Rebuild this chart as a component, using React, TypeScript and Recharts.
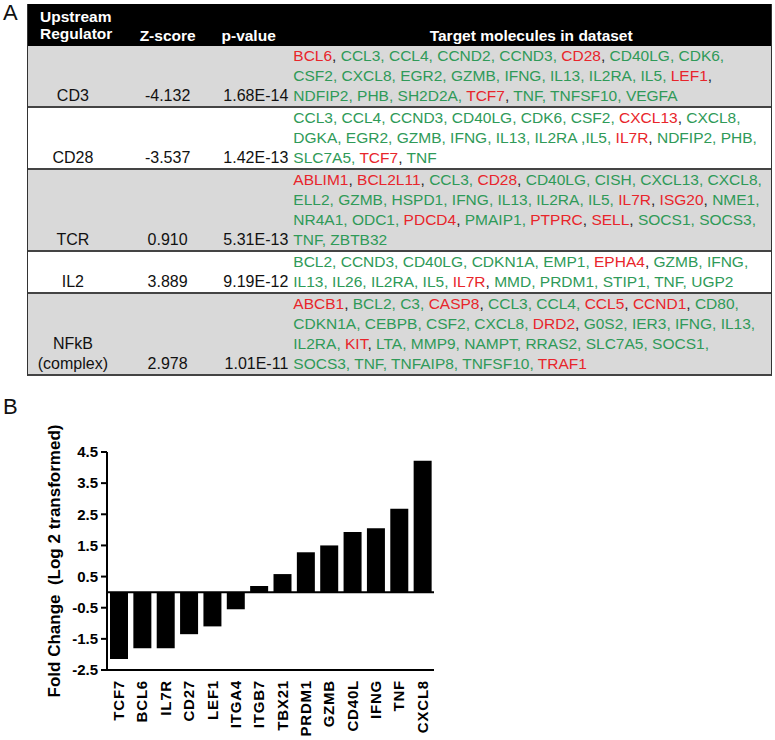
import React from 'react';
import { BarChart, Bar, XAxis, YAxis, ReferenceLine } from 'recharts';

// Panel A: upstream regulator table
const regulators = ['CD3', 'CD28', 'TCR', 'IL2', 'NFkB\n(complex)'];
const zScores = ['-4.132', '-3.537', '0.910', '3.889', '2.978'];
const pValues = ['1.68E-14', '1.42E-13', '5.31E-13', '9.19E-12', '1.01E-11'];

const cd3Targets = [
  'BCL6, CCL3, CCL4, CCND2, CCND3, CD28, CD40LG, CDK6,',
  'CSF2, CXCL8, EGR2, GZMB, IFNG, IL13, IL2RA, IL5, LEF1,',
  'NDFIP2, PHB, SH2D2A, TCF7, TNF, TNFSF10, VEGFA',
];
const cd28Targets = [
  'CCL3, CCL4, CCND3, CD40LG, CDK6, CSF2, CXCL13, CXCL8,',
  'DGKA, EGR2, GZMB, IFNG, IL13, IL2RA ,IL5, IL7R, NDFIP2, PHB,',
  'SLC7A5, TCF7, TNF',
];
const tcrTargets = [
  'ABLIM1, BCL2L11, CCL3, CD28, CD40LG, CISH, CXCL13, CXCL8,',
  'ELL2, GZMB, HSPD1, IFNG, IL13, IL2RA, IL5, IL7R, ISG20, NME1,',
  'NR4A1, ODC1, PDCD4, PMAIP1, PTPRC, SELL, SOCS1, SOCS3,',
  'TNF, ZBTB32',
];
const il2Targets = [
  'BCL2, CCND3, CD40LG, CDKN1A, EMP1, EPHA4, GZMB, IFNG,',
  'IL13, IL26, IL2RA, IL5, IL7R, MMD, PRDM1, STIP1, TNF, UGP2',
];
const nfkbTargets = [
  'ABCB1, BCL2, C3, CASP8, CCL3, CCL4, CCL5, CCND1, CD80,',
  'CDKN1A, CEBPB, CSF2, CXCL8, DRD2, G0S2, IER3, IFNG, IL13,',
  'IL2RA, KIT, LTA, MMP9, NAMPT, RRAS2, SLC7A5, SOCS1,',
  'SOCS3, TNF, TNFAIP8, TNFSF10, TRAF1',
];
const targetLines = [cd3Targets, cd28Targets, tcrTargets, il2Targets, nfkbTargets];

// genes shown in red (the rest are green)
const redGenes = [
  ['BCL6', 'CD28', 'LEF1', 'TCF7'],
  ['CXCL13', 'IL7R', 'TCF7'],
  ['ABLIM1', 'BCL2L11', 'CD28', 'IL7R', 'ISG20', 'PDCD4', 'PTPRC', 'SELL'],
  ['EPHA4', 'IL7R'],
  ['ABCB1', 'CASP8', 'CCL5', 'CCND1', 'DRD2', 'KIT', 'TRAF1'],
];

// Panel B: fold change
const genes = ['TCF7', 'BCL6', 'IL7R', 'CD27', 'LEF1', 'ITGA4', 'ITGB7', 'TBX21', 'PRDM1', 'GZMB', 'CD40L', 'IFNG', 'TNF', 'CXCL8'];
const foldChange = [-2.15, -1.8, -1.8, -1.35, -1.1, -0.55, 0.2, 0.58, 1.28, 1.5, 1.93, 2.05, 2.68, 4.22];
const yTicks = [-2.5, -1.5, -0.5, 0.5, 1.5, 2.5, 3.5, 4.5];

const FONT = '"Liberation Sans", Arial, Helvetica, sans-serif';
const GREEN = '#2f9a58';
const RED = '#e8252b';
const GRAY = '#d9d9d9';
const LINE_H = 20;
const COLS = [90, 100, 74, 481];

const renderLine = (line: string, red: string[]) => {
  const parts = line.split(/([A-Za-z0-9]+)/);
  let prevRed = false;
  return parts.map((p, i) => {
    if (i % 2 === 1) {
      prevRed = red.includes(p);
      return (
        <span key={i} style={{ color: prevRed ? RED : GREEN }}>
          {p}
        </span>
      );
    }
    return (
      <span key={i} style={{ color: prevRed ? '#222' : GREEN }}>
        {p}
      </span>
    );
  });
};

const RegulatorTable = () => (
  <div
    style={{
      position: 'absolute',
      left: 27,
      top: 4,
      width: 745,
      fontFamily: FONT,
      fontSize: 15.5,
      lineHeight: `${LINE_H}px`,
      borderLeft: '1.5px solid #333',
      borderRight: '1.5px solid #333',
      borderBottom: '2px solid #444',
      boxSizing: 'border-box',
    }}
  >
    <div style={{ display: 'flex', height: 42, background: '#000', color: '#fff', fontWeight: 'bold', lineHeight: '17px' }}>
      <div style={{ width: COLS[0], paddingLeft: 12, paddingTop: 4, boxSizing: 'border-box' }}>
        Upstream
        <br />
        Regulator
      </div>
      <div style={{ width: COLS[1], textAlign: 'center', alignSelf: 'flex-end', paddingBottom: 2 }}>Z-score</div>
      <div style={{ width: COLS[2], paddingLeft: 4, alignSelf: 'flex-end', paddingBottom: 2, boxSizing: 'border-box' }}>p-value</div>
      <div style={{ width: COLS[3], textAlign: 'center', alignSelf: 'flex-end', paddingBottom: 2 }}>Target molecules in dataset</div>
    </div>
    {regulators.map((reg, r) => (
      <div
        key={reg}
        style={{
          display: 'flex',
          alignItems: 'flex-end',
          background: r % 2 === 0 ? GRAY : '#fff',
          borderTop: r === 0 ? 'none' : '2px solid #444',
        }}
      >
        <div style={{ width: COLS[0], textAlign: 'center', whiteSpace: 'pre-line', color: '#111', fontSize: 16 }}>{reg}</div>
        <div style={{ width: COLS[1], textAlign: 'center', color: '#111', fontSize: 16 }}>{zScores[r]}</div>
        <div style={{ width: COLS[2], textAlign: 'right', paddingRight: 3, boxSizing: 'border-box', color: '#111', fontSize: 16 }}>
          {pValues[r]}
        </div>
        <div style={{ width: COLS[3], paddingLeft: 2, boxSizing: 'border-box' }}>
          {targetLines[r].map((line, i) => (
            <div key={i} style={{ whiteSpace: 'pre' }}>
              {renderLine(line, redGenes[r])}
            </div>
          ))}
        </div>
      </div>
    ))}
  </div>
);

const GeneTick = (props: any) => {
  const { x, y, payload } = props;
  return (
    <g transform={`translate(${x},${y + 2})`}>
      <text
        transform="rotate(-90)"
        textAnchor="end"
        dy="0.36em"
        fontFamily={FONT}
        fontWeight="bold"
        fontSize={15}
        letterSpacing={0.8}
        fill="#000"
      >
        {payload.value}
      </text>
    </g>
  );
};

const FoldChangeChart = () => {
  const data = genes.map((g, i) => ({ gene: g, value: foldChange[i] }));
  return (
    <div style={{ position: 'absolute', left: 0, top: 395 }}>
      <BarChart width={460} height={345} data={data} margin={{ top: 57, right: 26, bottom: 0, left: 0 }}>
        <XAxis
          dataKey="gene"
          interval={0}
          height={70}
          tickLine={false}
          axisLine={{ stroke: '#000', strokeWidth: 2 }}
          tick={<GeneTick />}
        />
        <YAxis
          width={107}
          domain={[-2.5, 4.5]}
          ticks={yTicks}
          interval={0}
          tickSize={6}
          tickMargin={3}
          axisLine={{ stroke: '#000', strokeWidth: 2 }}
          tickLine={{ stroke: '#000', strokeWidth: 2 }}
          tick={{ fill: '#000', fontSize: 15, fontWeight: 'bold', fontFamily: FONT }}
          label={{
            content: (p: any) => {
              const vb = p.viewBox || { y: 57, height: 218 };
              const cy = vb.y + vb.height / 2;
              return (
                <text
                  x={54}
                  y={cy}
                  transform={`rotate(-90, 54, ${cy})`}
                  textAnchor="middle"
                  dominantBaseline="central"
                  fontFamily={FONT}
                  fontWeight="bold"
                  fontSize={17}
                  fill="#000"
                  style={{ whiteSpace: 'pre' }}
                >
                  {'Fold Change  (Log 2 transformed)'}
                </text>
              );
            },
          }}
        />
        <ReferenceLine y={0} stroke="#000" strokeWidth={2} />
        <Bar dataKey="value" fill="#000" barSize={18} isAnimationActive={false} />
      </BarChart>
    </div>
  );
};

export default function App() {
  const panelLabel = { position: 'absolute' as const, left: 3, fontFamily: FONT, fontSize: 22, lineHeight: '26px', color: '#111' };
  return (
    <div style={{ position: 'absolute', left: 0, top: 0, width: 775, height: 740, background: '#fff', overflow: 'hidden' }}>
      <div style={{ ...panelLabel, top: 0 }}>A</div>
      <div style={{ ...panelLabel, top: 394 }}>B</div>
      <RegulatorTable />
      <FoldChangeChart />
    </div>
  );
}
